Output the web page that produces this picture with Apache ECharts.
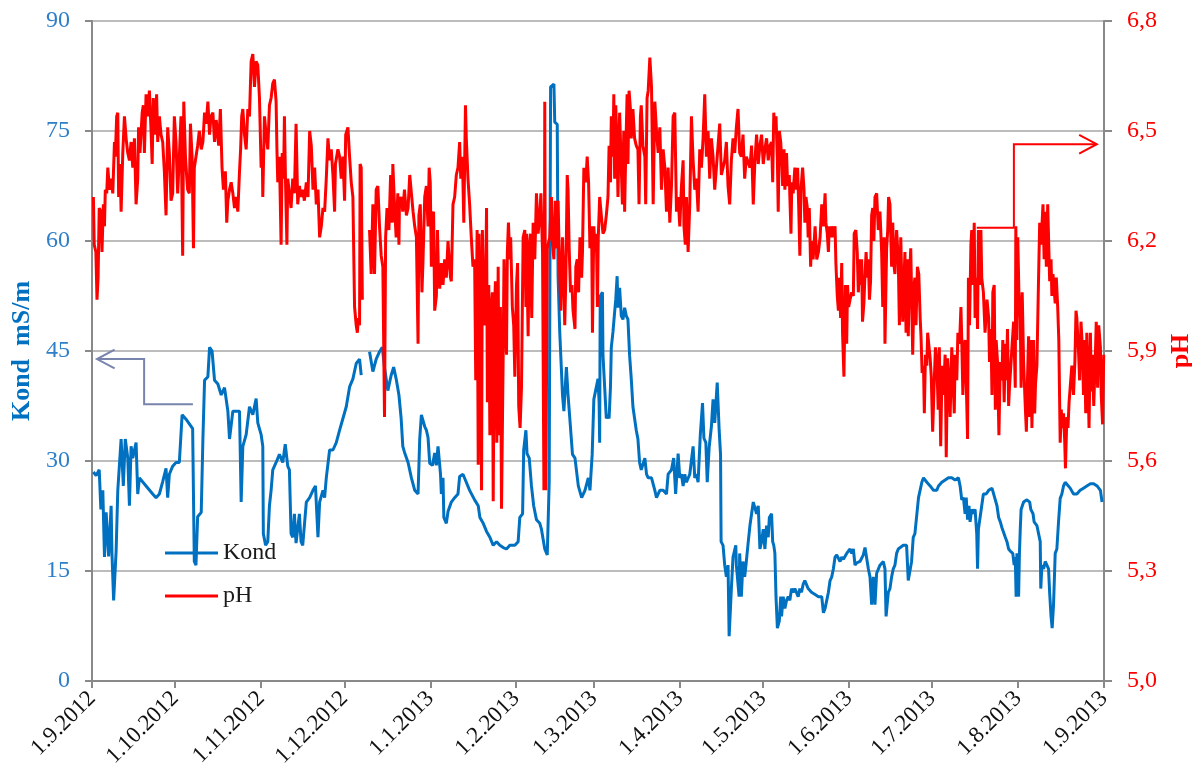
<!DOCTYPE html>
<html>
<head>
<meta charset="utf-8">
<script src="https://cdn.jsdelivr.net/npm/echarts@6/dist/echarts.min.js"></script>
<style>
  html, body { margin: 0; padding: 0; background: #fff; }
  #chart { width: 1192px; height: 780px; }
</style>
</head>
<body>
<div id="chart"></div>
<script>
// x = days since 1.9.2012
const monthDays = [0, 30, 61, 91, 122, 153, 181, 212, 242, 273, 303, 334, 365];
const monthLabels = ["1.9.2012", "1.10.2012", "1.11.2012", "1.12.2012", "1.1.2013", "1.2.2013",
  "1.3.2013", "1.4.2013", "1.5.2013", "1.6.2013", "1.7.2013", "1.8.2013", "1.9.2013"];

const kondDays = [
  0.5, 1.5, 2.6, 3.2, 3.9, 4.5, 5.1, 6.0, 6.9, 7.2, 7.8, 8.7, 9.3, 10.5, 11.3, 12.0, 12.9, 13.5, 14.1, 14.7,
  15.9, 16.5, 17.1, 19.5, 21.9, 23.1, 24.3, 25.5, 26.7, 27.3, 27.9, 29.1, 30.3, 31.5, 32.5, 33.9, 36.3, 36.9, 37.5, 38.1,
  39.4, 40.0, 40.6, 41.8, 42.4, 43.3, 44.2, 45.4, 46.6, 47.8, 49.0, 49.6, 50.8, 53.2, 53.8, 54.4, 55.6, 56.8, 58.0,
  59.2, 59.8, 61.0, 61.6, 61.8, 62.6, 63.4, 64.0, 64.6, 65.2, 66.4, 67.6, 68.8, 69.7, 70.6, 71.2, 71.8, 72.4, 73.0, 73.6,
  74.8, 75.4, 76.0, 77.3, 78.5, 79.7, 80.6, 81.5, 82.1, 83.3, 83.9, 84.5, 85.7, 86.9, 88.1, 89.3, 90.5, 91.7, 92.9, 94.1,
  95.3, 96.5, 97.1, 98.5, 100.1, 101.3, 102.5, 103.7, 104.7, 105.5, 106.7, 107.9, 108.8, 109.7, 110.7, 111.5, 112.1, 112.7,
  114.0, 115.2, 116.4, 117.6, 118.2, 118.8, 120.0,
  120.6, 121.2, 121.8, 122.8, 123.6, 124.2, 124.8, 125.7, 126.0, 126.6, 126.9, 127.8, 128.4, 129.6, 130.8, 132.0, 132.6,
  133.8, 135.0, 136.2, 138.0, 139.3, 139.9, 141.1, 142.3, 143.5, 144.7, 145.9, 147.1, 148.3, 149.5, 150.7, 152.5, 153.7,
  154.3, 155.3, 155.7, 156.5, 156.9, 157.7, 158.5, 159.3, 160.3, 161.5, 162.1, 163.3, 164.2, 164.6, 164.9, 165.4, 166.6,
  166.9, 167.8, 168.1, 168.7, 169.7, 170.2, 171.1, 171.7, 172.3, 173.3, 174.2, 175.4, 176.6, 177.8, 179.0, 179.6, 180.4, 181.0,
  182.5, 182.9, 183.1, 183.3, 184.1, 184.3, 184.9, 185.5, 186.1, 186.5, 187.0, 187.3, 187.9, 188.5, 188.9, 189.4, 189.7,
  190.3, 190.9, 191.5, 192.1, 192.7, 193.3, 193.9, 194.5, 195.1, 195.7, 196.3, 196.9, 197.5, 198.1, 199.4, 200.0, 200.6,
  201.8, 203.0, 203.6, 204.8, 206.0, 207.2, 207.8, 209.0, 209.8, 210.5, 211.4, 212.0, 212.6, 213.2, 213.8, 214.4, 215.6,
  216.8, 217.4, 218.0, 218.6, 219.4, 220.2, 220.7, 221.4, 221.9, 222.6, 223.4, 224.0, 224.6, 225.5, 226.2, 226.7, 226.9,
  227.6, 228.2, 228.8, 229.4, 229.8, 230.3, 230.6, 231.2, 232.2, 232.4, 233.4, 233.6, 234.2, 234.8, 235.4, 236.0, 236.7,
  237.3, 237.9, 238.5, 239.1, 239.7, 240.3, 240.9, 241.5, 242.1, 242.7,
  243.3, 243.9, 244.3, 245.1, 245.5, 245.9, 246.3, 246.7, 247.2, 247.9, 248.4, 248.7, 249.3, 249.9, 250.5, 251.1, 251.7,
  252.3, 252.9, 253.5, 254.7, 255.3, 255.9, 256.5, 257.1, 258.3, 259.5, 260.8, 262.0, 263.2, 263.8, 264.4, 265.0, 265.6,
  266.2, 266.8, 267.4, 268.0, 268.6, 269.2, 269.8, 270.4, 271.0, 272.2, 273.4, 274.0, 274.6, 275.2, 275.8, 277.0, 278.2,
  278.8, 279.4, 280.0, 280.6, 281.2, 281.8, 282.4, 283.0, 284.2, 285.4, 286.0, 286.4, 286.9, 287.2, 287.8, 288.4, 289.0,
  289.6, 290.2, 290.8, 291.4, 292.6, 293.8, 294.4, 295.0, 295.6, 296.2, 296.8, 297.5, 298.1, 298.7, 299.3, 299.9, 301.1,
  302.3, 303.5,
  304.7, 305.3, 306.5, 307.7, 308.9, 310.1, 311.3, 312.5, 313.1, 313.7, 314.3, 314.9, 315.3, 315.8, 316.3, 316.7, 317.3,
  317.9, 318.5, 319.1, 319.4, 319.7, 320.3, 320.9, 321.5, 322.5, 323.4, 324.6, 325.2, 325.8, 326.4, 327.0, 327.6, 328.2,
  328.8, 329.4, 330.0, 330.6, 331.2, 332.1, 332.6, 333.0, 333.3, 333.6, 334.2, 334.5, 334.8, 335.1, 336.0, 337.2, 338.2,
  338.6, 339.4, 339.8, 340.3, 340.8, 341.4, 342.0, 342.2, 342.6, 343.2, 343.8, 344.4, 345.0, 345.4, 345.9, 346.3, 346.8,
  347.4, 348.0, 348.6, 349.2, 349.8, 350.4, 351.0, 351.6, 352.8, 354.0, 355.2, 356.4, 357.6, 358.8, 360.1, 361.3, 362.5,
  363.7, 364.3
];
const kondValues = [
  28.5, 28.0, 28.8, 23.4, 26.0, 16.9, 23.0, 17.0, 23.9, 17.4, 11.0, 17.7, 26.0, 33.0, 26.6, 33.0, 30.4, 23.9, 32.0, 30.4,
  32.5, 25.5, 27.7, 26.6, 25.5, 25.0, 25.5, 27.2, 29.0, 25.0, 28.2, 29.3, 29.8, 29.8, 36.3, 35.7, 34.4, 16.3, 15.8, 22.4,
  23.0, 33.0, 41.0, 41.5, 45.5, 45.0, 41.0, 40.5, 39.0, 40.0, 36.8, 33.0, 36.8, 36.8, 24.4, 32.0, 33.6, 37.4, 36.3,
  38.5, 35.2, 33.6, 32.0, 20.1, 18.5, 19.0, 23.9, 26.0, 28.8, 29.8, 30.9, 29.8, 32.3, 29.3, 28.8, 20.1, 19.6, 22.8, 18.8,
  22.8, 19.0, 18.5, 24.4, 25.0, 26.0, 26.6, 19.6, 24.4, 26.0, 25.0, 27.7, 31.5, 31.5, 32.5, 34.2, 35.8, 37.4, 40.1, 41.2,
  43.3, 43.9, 41.7, null, 44.9, 42.2, 43.9, 44.9, 45.5, 42.8, 39.6, 41.7, 42.8, 41.2, 39.0, 35.8, 32.0, 31.2,
  29.8, 27.7, 26.0, 25.5, 33.0, 36.3, 34.7,
  34.2, 33.2, 29.7, 29.4, 31.1, 29.4, 32.0, 28.2, 25.5, 27.7, 22.3, 21.5, 23.1, 24.4, 25.0, 25.5, 27.9,
  28.2, 27.1, 26.0, 24.7, 23.9, 22.3, 21.5, 20.4, 19.6, 18.5, 19.0, 18.5, 18.2, 18.0, 18.5, 18.5, 19.0,
  22.3, 22.8, 31.5, 34.2, 31.0, 30.4, 26.6, 23.9, 22.0, 21.5, 20.7, 18.0, 17.2, 17.4, 27.1, 81.0, 81.4,
  76.2, 75.9, 55.2, 47.6, 39.0, 36.8, 42.8, 39.0, 39.0, 30.9, 30.4, 26.6, 25.0, 26.0, 27.7, 26.0, 30.9, 38.4,
  41.2, 38.0, 32.5, 52.5, 53.0, 44.4, 44.4, 35.8, 36.3, 35.8, 40.1, 45.5, 47.6, 50.3, 52.0, 55.2, 50.9,
  53.6, 49.8, 49.3, 50.9, 49.8, 49.3, 44.4, 41.2, 37.4, 35.8, 34.2, 33.0, 29.8, 28.8, 30.4, 28.2, 27.7,
  27.7, 26.0, 25.0, 26.0, 26.0, 25.5, 28.2, 28.8, 30.4, 25.5, 31.0, 27.7, 28.2, 26.6, 28.2, 27.1, 28.2,
  32.0, 27.7, 28.2, 27.1, 33.6, 37.9, 33.1, 32.5, 27.1, 31.9, 34.7, 38.4, 35.2, 40.7, 34.2, 30.9, 19.0,
  18.5, 15.8, 14.2, 15.8, 6.1, 6.1, 12.6, 16.9, 18.5, 15.8, 11.5, 17.4, 11.5, 16.3, 14.2, 16.3, 19.0,
  21.2, 22.8, 24.4, 24.4, 22.8, 23.9, 18.0, 19.0, 20.7, 18.0,
  21.2, 19.6, 22.3, 22.8, 19.0, 18.5, 17.4, 11.5, 7.2, 8.2, 11.5, 8.8, 11.5, 9.9, 11.0, 11.5, 11.0,
  12.6, 12.1, 12.6, 11.5, 12.6, 12.1, 13.2, 13.7, 12.6, 12.1, 11.8, 11.5, 11.5, 9.3, 9.9, 11.0, 12.1,
  13.7, 14.2, 15.3, 16.9, 17.2, 17.4, 16.3, 16.9, 16.6, 17.4, 18.0, 17.4, 18.0, 15.8, 16.1, 16.3, 17.2,
  18.2, 18.0, 15.3, 14.2, 10.4, 14.2, 10.4, 14.7, 15.8, 16.3, 15.3, 8.8, 8.8, 12.1, 12.6, 14.2, 15.3,
  15.8, 17.4, 18.0, 18.2, 18.5, 18.5, 13.7, 13.7, 16.3, 19.6, 20.1, 20.1, 25.0, 25.0, 27.1, 27.7, 27.1,
  26.6, 26.0,
  26.0, 26.6, 27.1, 27.4, 27.7, 27.7, 27.4, 27.7, 26.6, 24.7, 25.0, 22.8, 25.0, 22.0, 23.9, 21.7, 23.4,
  22.8, 23.4, 20.1, 15.3, 20.7, 20.7, 23.9, 25.5, 25.5, 26.0, 26.3, 26.3, 24.7, 23.9, 22.3, 21.7, 20.9,
  20.7, 19.6, 19.0, 18.0, 17.7, 17.4, 15.8, 16.9, 11.5, 17.4, 11.5, 17.4, 20.7, 23.4, 24.4, 24.7, 24.4,
  23.4, 22.8, 21.7, 21.5, 21.2, 20.1, 19.0, 12.6, 15.8, 15.3, 16.3, 15.8, 15.3, 12.0, 8.8, 7.2, 10.4,
  17.4, 18.0, 21.7, 24.9, 25.5, 26.6, 27.1, 26.9, 26.3, 25.5, 25.5, 26.0, 26.3, 26.6, 26.9, 26.9, 26.6,
  26.0, 24.4
];

const phDays = [
  0.5, 0.8, 1.4, 1.8, 2.2, 2.6, 3.2, 3.6, 4.1, 4.5, 4.8, 5.3, 5.7, 6.3, 6.9, 7.5, 8.1, 8.4, 8.9, 9.3, 9.6, 10.1, 10.5,
  11.1, 11.7, 12.3, 12.9, 13.5, 14.1, 14.7, 15.3, 15.9, 16.5, 16.8, 17.3, 18.1, 18.5, 18.9, 19.5, 20.1, 20.7, 21.3,
  21.7, 22.1, 22.9, 23.3, 23.7, 24.3, 24.9, 25.5, 26.1, 26.7, 27.3, 27.9, 28.5, 29.1, 29.7, 30.3, 30.9, 31.5, 32.1,
  32.7, 33.1, 33.7, 34.2, 34.5, 35.1, 35.5, 36.1, 36.6, 36.9, 37.5, 38.1, 38.7, 39.4, 40.0, 40.6, 41.2, 41.8, 42.4,
  42.9, 43.6, 44.2, 44.8, 45.7, 46.3, 46.9, 47.4, 48.1, 48.6, 49.0, 49.6, 50.2, 50.8, 51.4, 52.0, 52.6, 53.2, 53.6,
  54.0, 54.4, 55.0, 55.6, 56.2, 56.8, 57.4, 58.0, 58.6,
  59.2, 59.8, 60.4, 61.0, 61.4, 61.6, 62.2, 62.8, 63.4, 64.0, 64.6, 65.2, 65.8, 66.4, 66.7, 67.0, 67.6, 68.2, 68.6,
  69.1, 69.4, 69.8, 70.3, 70.6, 71.2, 71.8, 72.4, 73.0, 73.6, 74.2, 74.8, 75.4, 76.0, 76.6, 77.3, 77.9, 78.5, 79.1,
  79.7, 80.3, 80.9, 81.5, 82.1, 82.7, 83.3, 83.9, 84.5, 85.1, 85.7, 86.3, 86.9, 87.5, 87.8, 88.7, 89.3, 89.9, 90.5,
  91.1, 91.5, 92.3, 92.9, 93.5, 94.1, 94.7, 95.3, 95.7, 96.1, 96.5, 96.7, 97.1, 97.5, 98.5, 100.1, 100.7, 101.3,
  101.9, 102.5, 103.1, 103.7, 104.3, 104.9, 105.5, 105.9, 106.4, 107.1, 107.7, 108.3, 108.5, 109.1, 109.7, 110.3,
  110.7, 110.9, 111.5, 112.1, 112.7, 113.4, 114.0, 114.6, 115.2, 115.8, 116.4, 117.0, 117.6, 117.9, 118.4, 119.0,
  119.4, 120.0,
  120.6, 121.2, 121.6, 122.0, 122.4, 122.8, 123.2, 123.6, 124.2, 124.6, 124.9, 125.4, 126.0, 126.6, 127.2, 127.8,
  128.4, 128.8, 129.3, 129.6, 130.2, 130.8, 131.4, 132.0, 132.6, 133.0, 133.6, 134.1, 134.7, 135.0, 135.6, 136.2,
  136.8, 137.4, 138.0, 138.4, 138.9, 139.3, 139.6, 140.1, 140.5, 140.8, 141.3, 141.8, 142.3, 142.6, 143.1, 143.5,
  143.9, 144.4, 144.7, 145.1, 145.5, 146.0, 146.5, 146.8, 147.3, 147.7, 148.3, 148.6, 149.0, 149.5, 149.8, 150.2,
  150.7, 151.0, 151.6, 152.1, 152.5, 153.1, 153.5, 153.9, 154.4, 154.9, 155.5, 156.1, 156.5, 156.7, 157.3, 157.7,
  158.1, 158.6, 159.1, 159.7, 160.3, 160.9, 161.5, 161.9, 162.5, 163.0, 163.3, 163.7, 164.2, 164.6, 165.1, 165.7,
  166.1, 166.6, 167.1, 167.5, 168.1, 168.7, 169.1, 169.7, 170.2, 170.5, 170.9, 171.4, 171.7, 172.1, 172.6, 173.1,
  173.5, 174.2, 174.5, 175.0, 175.5, 176.0, 176.6, 176.9, 177.4, 178.1, 178.6, 179.1, 179.6, 180.2, 180.5, 181.0, 181.5,
  181.9, 182.3, 182.6, 183.1, 183.7, 184.3, 184.9, 185.5, 186.1, 186.5, 187.0, 187.3, 187.9, 188.2, 188.5, 188.9,
  189.4, 189.7, 190.3, 190.9, 191.3, 191.8, 192.1, 192.5, 193.0, 193.3, 193.7, 194.2, 194.5, 195.1, 195.7, 196.3,
  196.9, 197.3, 197.8, 198.1, 198.7, 199.4, 199.7, 200.2, 200.6, 201.2, 201.8, 202.4, 203.0, 203.6, 204.2, 204.8,
  205.4, 206.0, 206.6, 207.2, 207.8, 208.4, 209.0, 209.6, 210.2, 210.8, 211.4, 212.0, 212.6, 213.2, 213.5, 214.0,
  214.4, 215.0, 215.6, 216.2, 216.8, 217.4, 218.0, 218.6, 219.2, 219.8, 220.4, 221.0, 221.6, 222.2, 222.8, 223.4,
  224.0, 224.6, 225.2, 225.8, 226.4, 227.0, 227.6, 228.2, 228.8, 229.4, 230.0, 230.6, 231.2, 231.8, 232.4, 233.0,
  233.6, 234.2, 234.8, 235.4, 236.0, 236.7, 237.3, 237.9, 238.5, 239.1, 239.7, 240.3, 240.9, 241.5, 242.1, 242.7,
  243.3, 243.9, 244.5,
  245.1, 245.5, 245.9, 246.3, 246.7, 247.2, 247.5, 247.9, 248.4, 248.7, 249.1, 249.6, 249.9, 250.5, 250.9, 251.5,
  251.7, 252.1, 252.4, 252.9, 253.5, 254.1, 254.5, 254.9, 255.3, 255.7, 256.3, 256.8, 257.1, 257.5, 258.0, 258.3,
  258.7, 259.2, 259.5, 260.1, 260.8, 261.4, 262.0, 262.6, 263.2, 263.8, 264.4, 264.7, 265.2, 265.6, 265.9, 266.4,
  266.8, 267.4, 268.0, 268.3, 268.8, 269.2, 269.5, 270.0, 270.4, 270.7, 271.2, 271.7, 272.2, 272.5, 272.9, 273.4,
  274.0, 274.6, 274.9, 275.5, 276.0, 276.4, 276.8, 277.2, 277.6, 277.9, 278.4, 278.8, 279.2, 279.6, 280.0, 280.4,
  280.8, 281.2, 281.6, 282.0, 282.4, 283.0, 283.6, 284.2, 284.8, 285.2, 285.7, 286.0, 286.6, 287.0, 287.3, 287.8,
  288.4, 288.8, 289.3, 289.6, 290.2, 290.8, 291.2, 291.7, 292.0, 292.4, 292.9, 293.2, 293.6, 294.1, 294.4, 294.8,
  295.3, 295.6, 296.0, 296.5, 296.8, 297.2, 297.7, 298.2, 298.7, 299.0, 299.4, 299.9, 300.2, 300.6, 301.1, 301.4,
  301.9, 302.3, 302.7, 303.2, 303.7, 304.2, 304.7, 305.2, 305.6, 306.1,
  306.6, 307.1, 307.7, 308.1, 308.6, 309.0, 309.5, 310.1, 310.5, 311.0, 311.3, 311.9, 312.3, 312.9, 313.4, 313.7,
  314.1, 314.6, 314.9, 315.3, 315.8, 316.1, 316.5, 317.0, 317.3, 317.7, 318.2, 318.5, 318.9, 319.4, 319.7, 320.1,
  320.6, 320.9, 321.5, 322.1, 322.8, 323.4, 323.7, 324.2, 324.6, 324.9, 325.4, 325.8, 326.1, 326.6, 327.1, 327.6,
  328.2, 328.5, 329.0, 329.4, 329.7, 330.2, 330.6, 330.9, 331.4, 331.8, 332.4, 333.0, 333.2, 333.6, 333.9, 334.3,
  334.8, 335.1, 335.5, 336.0, 336.6, 337.0, 337.4, 337.8, 338.2, 338.6, 339.0, 339.6, 340.0, 340.3, 340.8, 341.4,
  341.8, 342.2, 342.6, 343.0, 343.4, 343.8, 344.2, 344.7, 345.0, 345.4, 345.9, 346.2, 346.6, 347.1, 347.4, 347.8,
  348.3, 348.7, 349.2, 349.6, 349.9, 350.4, 350.8, 351.1, 351.6, 352.0, 352.4, 352.8, 353.4, 354.0, 354.5, 354.9,
  355.2, 355.8, 356.2, 356.7, 357.2, 357.6, 358.0, 358.4, 358.8, 359.2, 359.6, 360.1, 360.4, 360.8, 361.3, 361.9,
  362.2, 362.7, 363.1, 363.7, 364.0, 364.5, 364.9
];
const phValues = [
  6.32, 6.19, 6.17, 6.04, 6.10, 6.29, 6.28, 6.17, 6.30, 6.24, 6.34, 6.33, 6.40, 6.34, 6.37, 6.33, 6.47, 6.43, 6.54, 6.55, 6.32, 6.41, 6.28,
  6.44, 6.54, 6.48, 6.44, 6.42, 6.47, 6.40, 6.48, 6.30, 6.37, 6.51, 6.44, 6.55, 6.57, 6.44, 6.60, 6.54, 6.61, 6.50,
  6.41, 6.59, 6.49, 6.60, 6.47, 6.54, 6.49, 6.47, 6.39, 6.27, 6.51, 6.44, 6.31, 6.33, 6.54, 6.47, 6.33, 6.43, 6.54,
  6.16, 6.58, 6.43, 6.37, 6.34, 6.33, 6.52, 6.43, 6.18, 6.40, 6.43, 6.46, 6.50, 6.45, 6.47, 6.55, 6.52, 6.58, 6.49,
  6.54, 6.55, 6.47, 6.53, 6.46, 6.56, 6.40, 6.34, 6.39, 6.25, 6.31, 6.34, 6.36, 6.33, 6.29, 6.32, 6.28, 6.39, 6.45,
  6.54, 6.56, 6.49, 6.45, 6.56, 6.54, 6.69, 6.71, 6.62,
  6.69, 6.68, 6.59, 6.40, 6.45, 6.32, 6.54, 6.49, 6.45, 6.57, 6.59, 6.63, 6.64, 6.58, 6.45, 6.36, 6.43, 6.19, 6.44,
  6.37, 6.54, 6.36, 6.19, 6.37, 6.33, 6.29, 6.37, 6.33, 6.52, 6.30, 6.35, 6.32, 6.34, 6.31, 6.36, 6.32, 6.50, 6.46,
  6.34, 6.40, 6.30, 6.34, 6.21, 6.24, 6.29, 6.28, 6.37, 6.48, 6.42, 6.45, 6.38, 6.28, 6.41, 6.45, 6.43, 6.37, 6.43,
  6.31, 6.49, 6.51, 6.43, 6.36, 6.32, 6.02, 5.97, 5.95, 5.99, 5.97, 6.41, 6.40, 6.04, null, 6.23, 6.11, 6.30,
  6.11, 6.34, 6.35, 6.24, 6.16, 6.13, 5.72, 6.21, 6.29, 6.23, 6.38, 6.25, 6.41, 6.30, 6.21, 6.33,
  6.19, 6.31, 6.32, 6.28, 6.34, 6.27, 6.29, 6.38, 6.33, 6.28, 6.24, 6.21, 5.92, 6.27, 6.30, 6.06,
  6.15, 6.32,
  6.35, 6.24, 6.40, 6.36, 6.13, 6.27, 6.28, 6.01, 6.05, 6.23, 6.13, 6.07, 6.14, 6.08, 6.15, 6.10,
  6.20, 6.15, 6.10, 6.09, 6.30, 6.32, 6.38, 6.40, 6.47, 6.37, 6.43, 6.25, 6.57, 6.48, 6.37, 6.30,
  6.21, 6.13, 6.15, 5.82, 6.23, 5.59, 6.22, 5.97, 5.52, 6.23, 6.02, 5.97, 6.29, 5.76, 6.08, 5.67,
  6.01, 6.06, 5.49, 5.99, 6.09, 5.65, 6.13, 5.67, 6.02, 5.47, 5.89, 6.15, 5.99, 5.89, 6.17, 6.25,
  6.15, 6.21, 6.02, 5.97, 5.83, 6.08, 6.14, 5.75, 5.69, 5.80, 6.21, 6.23, 6.02, 6.22, 5.94, 6.19,
  6.22, 5.99, 6.25, 6.15, 6.33, 6.22, 6.27, 6.33, 6.17, 5.52, 6.58, 5.52, 6.18, 6.18, 6.21, 6.32,
  6.19, 6.15, 6.31, 6.18, 6.31, 6.10, 6.01, 6.21, 6.09, 5.97, 6.10, 6.38, 6.34, 6.18, 6.06, 6.08,
  6.01, 5.96, 6.13, 6.15, 6.06, 6.21, 6.10, 6.17, 6.40, 6.36, 6.43, 6.36, 6.18, 6.24, 5.95, 6.24, 6.17,
  6.22, 6.02, 6.21, 6.32, 6.27, 6.22, 6.23, 6.27, 6.32, 6.46, 6.36, 6.54, 6.43, 6.60, 6.37, 6.57,
  6.45, 6.32, 6.55, 6.40, 6.30, 6.50, 6.28, 6.44, 6.60, 6.41, 6.61, 6.56, 6.48, 6.56, 6.48, 6.46,
  6.45, 6.30, 6.54, 6.57, 6.46, 6.43, 6.30, 6.59, 6.61, 6.70, 6.62, 6.30, 6.58, 6.50, 6.44, 6.51,
  6.34, 6.45, 6.40, 6.28, 6.40, 6.25, 6.35, 6.54, 6.55, 6.28, 6.32, 6.24, 6.35, 6.42, 6.24, 6.19,
  6.32, 6.17, 6.30, 6.54, 6.42, 6.34, 6.37, 6.28, 6.45, 6.40, 6.48, 6.60, 6.43, 6.50, 6.37, 6.48,
  6.43, 6.34, 6.40, 6.46, 6.52, 6.38, 6.40, 6.42, 6.47, 6.35, 6.30, 6.42, 6.48, 6.44, 6.51, 6.56,
  6.44, 6.43, 6.49, 6.37, 6.43, 6.43, 6.40, 6.46, 6.30, 6.42, 6.49, 6.41, 6.46, 6.49, 6.41, 6.45,
  6.48, 6.42, 6.46,
  6.47, 6.36, 6.55, 6.50, 6.54, 6.42, 6.28, 6.50, 6.47, 6.43, 6.35, 6.45, 6.34, 6.44, 6.35, 6.38,
  6.32, 6.22, 6.36, 6.33, 6.40, 6.34, 6.40, 6.29, 6.16, 6.34, 6.40, 6.34, 6.25, 6.32, 6.29, 6.21,
  6.29, 6.13, 6.20, 6.15, 6.24, 6.15, 6.17, 6.21, 6.30, 6.24, 6.33, 6.25, 6.22, 6.17, 6.24, 6.21,
  6.24, 6.21, 6.24, 6.14, 6.05, 6.01, 6.10, 5.99, 6.14, 5.95, 5.83, 6.08, 5.92, 6.08, 6.02, 6.04,
  6.06, 6.05, 6.22, 6.23, 6.17, 6.06, 6.15, 6.08, 6.15, 5.98, 6.03, 6.11, 6.17, 6.10, 6.15, 6.04,
  6.09, 6.27, 6.29, 6.20, 6.32, 6.33, 6.23, 6.28, 6.17, 6.02, 6.21, 5.92, 6.18, 6.23, 6.32, 6.30,
  6.13, 6.25, 6.13, 6.11, 6.23, 6.15, 5.97, 6.21, 6.11, 5.98, 6.10, 6.17, 5.95, 6.15, 5.94, 6.09,
  6.18, 6.06, 5.89, 6.08, 6.10, 5.97, 6.13, 6.11, 5.99, 5.94, 5.84, 5.86, 5.73, 5.89, 5.86, 5.95,
  5.91, 5.88, 5.83, 5.68, 5.80, 5.91, 5.87, 5.74, 5.91, 5.64,
  5.86, 5.78, 5.89, 5.61, 5.88, 5.83, 5.72, 5.91, 5.83, 5.73, 5.89, 5.82, 5.95, 5.92, 6.02, 5.93,
  5.78, 5.91, 5.93, 5.82, 5.66, 6.10, 5.97, 6.19, 6.23, 6.08, 6.25, 5.99, 6.10, 5.96, 6.23, 6.08,
  6.23, 6.10, 6.06, 5.95, 6.04, 5.99, 5.87, 5.96, 5.78, 6.06, 6.08, 5.74, 5.93, 5.87, 5.67, 5.87,
  5.82, 5.93, 5.76, 5.92, 5.82, 5.96, 5.75, 5.80, 5.86, 5.91, 5.98, 5.80, 6.24, 5.93, 6.21, 6.06,
  5.99, 5.80, 6.06, 5.87, 5.75, 5.68, 5.82, 5.94, 5.72, 5.93, 5.69, 5.93, 5.73, 5.81, 5.86, 6.10,
  6.25, 6.19, 6.24, 6.30, 6.15, 6.28, 6.13, 6.30, 6.21, 6.09, 6.15, 6.05, 6.11, 6.06, 6.03, 6.10,
  6.02, 5.93, 5.65, 5.74, 5.69, 5.73, 5.66, 5.58, 5.72, 5.69, 5.76, 5.80, 5.86, 5.78, 5.87, 6.01,
  5.99, 5.90, 5.82, 5.98, 5.91, 5.78, 5.93, 5.73, 5.95, 5.84, 5.69, 5.95, 5.79, 5.89, 5.75, 5.89,
  5.98, 5.80, 5.97, 5.91, 5.78, 5.70, 5.89
];

// annotation arrows (path in data units, arrow tip is the last point)
const kondArrowDays = [36.4, 18.8, 18.8, 1.8];
const kondArrowValues = [37.75, 37.75, 43.9, 43.9];
const phArrowDays = [319.1, 332.5, 332.5, 362.4];
const phArrowValues = [6.236, 6.236, 6.464, 6.464];

const FONT = "'Liberation Serif', 'DejaVu Serif', serif";
const BLUE = "#0070c0";
const RED = "#ff0000";
const AXIS_GREY = "#898989";

function pairUp(xs, ys) {
  return xs.map((x, i) => [x, ys[i] === null ? "-" : ys[i]]);
}

function arrowRenderer(xs, ys, color) {
  return function (params, api) {
    const pts = xs.map((x, i) => api.coord([x, ys[i]]));
    const tip = pts[pts.length - 1];
    const prev = pts[pts.length - 2];
    const ang = Math.atan2(tip[1] - prev[1], tip[0] - prev[0]);
    const len = 20, spread = 0.49;
    const a1 = [tip[0] - len * Math.cos(ang - spread), tip[1] - len * Math.sin(ang - spread)];
    const a2 = [tip[0] - len * Math.cos(ang + spread), tip[1] - len * Math.sin(ang + spread)];
    const style = { stroke: color, lineWidth: 2, fill: "none" };
    return {
      type: "group",
      children: [
        { type: "polyline", shape: { points: pts }, style: style },
        { type: "polyline", shape: { points: [a1, tip, a2] }, style: style }
      ]
    };
  };
}

const chart = echarts.init(document.getElementById("chart"), null, { renderer: "canvas" });

chart.setOption({
  backgroundColor: "#ffffff",
  animation: false,
  textStyle: { fontFamily: FONT },
  grid: {
    left: 92,
    right: 88,
    top: 21,
    bottom: 99,
    containLabel: false,
    outerBoundsMode: "none"
  },
  legend: {
    orient: "vertical",
    left: 165,
    top: 541,
    padding: 0,
    itemGap: 19,
    itemWidth: 53,
    itemHeight: 3,
    icon: "rect",
    data: ["Kond", "pH"],
    textStyle: { fontFamily: FONT, fontSize: 24, color: "#1a1a1a", padding: [0, 0, 0, 0] }
  },
  xAxis: {
    type: "value",
    min: 0,
    max: 365,
    axisLine: { lineStyle: { color: AXIS_GREY, width: 2 } },
    axisTick: { show: true, length: 7, customValues: monthDays, lineStyle: { color: AXIS_GREY, width: 2 } },
    axisLabel: {
      customValues: monthDays,
      rotate: 45,
      margin: 14,
      color: "#111",
      fontFamily: FONT,
      fontSize: 23,
      formatter: function (v) {
        const i = monthDays.indexOf(Math.round(v));
        return i === -1 ? "" : monthLabels[i];
      }
    },
    splitLine: { show: false }
  },
  yAxis: [
    {
      type: "value",
      min: 0,
      max: 90,
      interval: 15,
      position: "left",
      name: "Kond  mS/m",
      nameLocation: "middle",
      nameRotate: 90,
      nameGap: 56,
      nameTextStyle: { color: BLUE, fontFamily: FONT, fontSize: 26, fontWeight: "bold" },
      axisLine: { show: true, lineStyle: { color: AXIS_GREY, width: 2 } },
      axisTick: { show: true, length: 7, lineStyle: { color: AXIS_GREY, width: 2 } },
      axisLabel: { color: "#2e7fc8", fontFamily: FONT, fontSize: 24, margin: 22 },
      splitLine: { show: true, lineStyle: { color: "#a6a6a6", width: 1.5 } }
    },
    {
      type: "value",
      min: 5.0,
      max: 6.8,
      interval: 0.3,
      position: "right",
      name: "pH",
      nameLocation: "middle",
      nameRotate: 90,
      nameGap: 55,
      nameTextStyle: { color: RED, fontFamily: FONT, fontSize: 26, fontWeight: "bold" },
      axisLine: { show: true, lineStyle: { color: AXIS_GREY, width: 2 } },
      axisTick: { show: true, length: 8, lineStyle: { color: AXIS_GREY, width: 2 } },
      axisLabel: {
        color: RED,
        fontFamily: FONT,
        fontSize: 24,
        margin: 23,
        formatter: function (v) { return v.toFixed(1).replace(".", ","); }
      },
      splitLine: { show: false }
    }
  ],
  series: [
    {
      name: "Kond",
      type: "line",
      yAxisIndex: 0,
      data: pairUp(kondDays, kondValues),
      showSymbol: false,
      symbol: "none",
      connectNulls: false,
      sampling: "none",
      lineStyle: { color: BLUE, width: 3 },
      itemStyle: { color: BLUE },
      z: 2
    },
    {
      name: "pH",
      type: "line",
      yAxisIndex: 1,
      data: pairUp(phDays, phValues),
      showSymbol: false,
      symbol: "none",
      connectNulls: false,
      sampling: "none",
      lineStyle: { color: RED, width: 3 },
      itemStyle: { color: RED },
      z: 3
    },
    {
      name: "kondArrow",
      type: "custom",
      yAxisIndex: 0,
      silent: true,
      data: [[kondArrowDays[0], kondArrowValues[0]]],
      renderItem: arrowRenderer(kondArrowDays, kondArrowValues, "#7884ac"),
      z: 4
    },
    {
      name: "phArrow",
      type: "custom",
      yAxisIndex: 1,
      silent: true,
      data: [[phArrowDays[0], phArrowValues[0]]],
      renderItem: arrowRenderer(phArrowDays, phArrowValues, RED),
      z: 4
    }
  ]
});
</script>
</body>
</html>
